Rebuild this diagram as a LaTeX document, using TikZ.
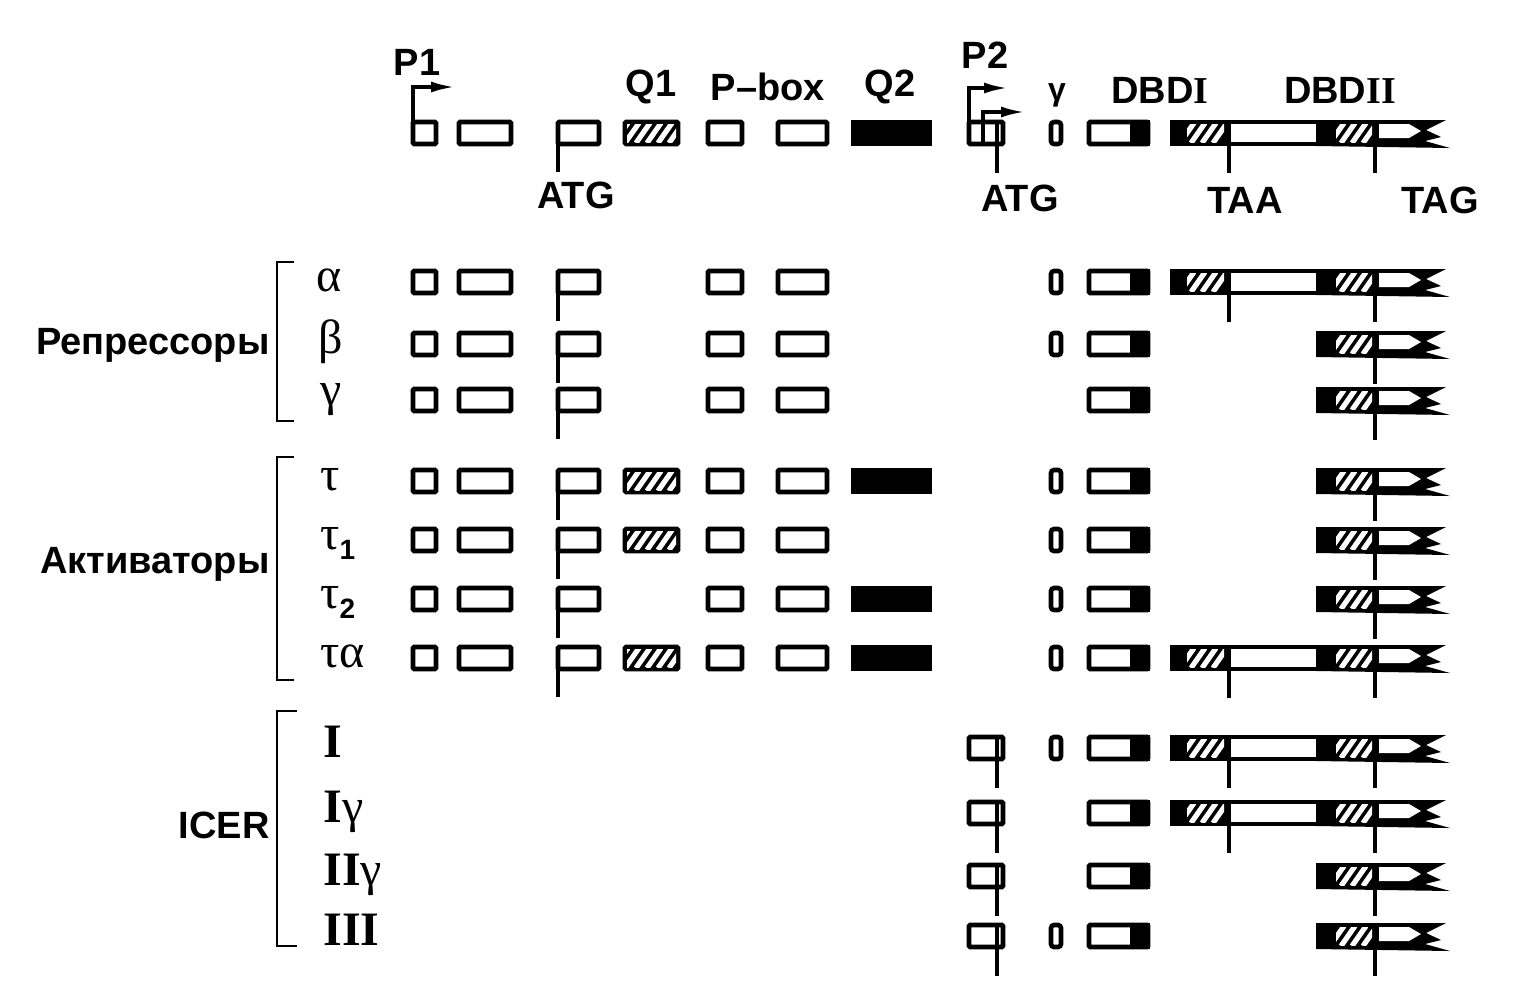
\documentclass[tikz,border=0pt]{standalone}
\usepackage{fontspec}
\setmainfont{Liberation Sans}
\newfontfamily\grfont{Liberation Serif}
\usetikzlibrary{arrows.meta}

\begin{document}
\begin{tikzpicture}[x=0.5pt,y=-0.5pt,
    exon/.style={draw,line width=2.3pt,fill=white,rounded corners=0.6pt},
    stripe/.style={white,line width=2.6pt},
    tick/.style={line width=1.7pt},
    prom/.style={line width=1.7pt,-{Latex[length=12pt,width=5.5pt]}},
    brack/.style={line width=1.1pt},
    lbl/.style={font=\bfseries\fontsize{19}{24}\selectfont,inner sep=0pt},
    row/.style={font=\grfont\fontsize{24}{26}\selectfont,inner sep=0pt,anchor=base west}]

      \useasboundingbox (0,0) rectangle (1524,992);

      %%%%%%%%%%%%%%%%%%%%%%%%%%%%%%%%%%%%%%%%%%%%%%%%%%%%%%%%%%%%%%%%%%%%%%%%%%%
      %%%%  P1 exons
      \foreach \y in {133,282,344,400,481,540,599,658}
      {\draw[exon] (413,\y-11) rectangle (436,\y+11);
       \draw[exon] (459,\y-11) rectangle (511,\y+11);
       \draw[exon] (558,\y-11) rectangle (599,\y+11);
       \draw[tick] (558,\y) -- (558,\y+39);
       \draw[exon] (708,\y-11) rectangle (742,\y+11);
       \draw[exon] (778,\y-11) rectangle (827,\y+11);
      };

      %%%%  Q1
      \foreach \y in {133,481,540,658}
      {\draw[exon,fill=black] (625,\y-11) rectangle (678,\y+11);
       \begin{scope}
         \clip (627,\y-9) rectangle (676,\y+9);
         \foreach \s in {0,...,5}
           {\draw[stripe] (614+\s*11,\y+10) -- ++(14,-20);}
       \end{scope}
      };

      %%%%  Q2
      \foreach \y in {133,481,599,658}
      {\fill (851,\y-13) rectangle (932,\y+13);};

      %%%%%%%%%%%%%%%%%%%%%%%%%%%%%%%%%%%%%%%%%%%%%%%%%%%%%%%%%%%%%%%%%%%%%%%%%%%
      %%%%  P2 exon
      \draw[exon] (969,122) rectangle (1003,144);
      \draw[tick] (983,122) -- (983,144);
      \draw[tick] (997,122) -- (997,173);
      \draw[prom] (969,122) -- (969,88) -- (1008,88);
      \draw[prom] (983,122) -- (983,112) -- (1025,112);
      \draw[prom] (413,122) -- (413,87) -- (455,87);

      \foreach \y in {748,813,876,936}
      {\draw[exon] (969,\y-11) rectangle (1003,\y+11);
       \draw[tick] (997,\y-11) -- (997,\y+40);
      };

      %%%%  gamma exon
      \foreach \y in {133,282,344,481,540,599,658,748,936}
      {\draw[exon,rounded corners=1.5pt] (1051,\y-11) rectangle (1061,\y+11);};

      %%%%  DBD I
      \foreach \y in {133,282,344,400,481,540,599,658,748,813,876,936}
      {\draw[exon] (1089,\y-11) rectangle (1148,\y+11);
       \fill (1130,\y-13) rectangle (1150,\y+13);
      };

      %%%%  DBD I + II, long form
      \foreach \y in {133,282,658,748,813}
      {\fill (1170,\y-13) rectangle (1320,\y+13);
       \fill[white] (1231,\y-9) rectangle (1316,\y+9);
       \begin{scope}
         \clip (1187,\y-9) rectangle (1224,\y+9);
         \foreach \s in {0,...,3}
           {\draw[stripe] (1180+\s*11,\y+10) -- ++(14,-20);}
       \end{scope}
       \draw[tick] (1229,\y) -- (1229,\y+40);
      };

      %%%%  DBD II, end of all forms
      \foreach \y in {133,282,344,400,481,540,599,658,748,813,876,936}
      {\fill (1316,\y-13) -- (1446,\y-13) -- (1426,\y-3) -- (1441,\y+4)
          -- (1425,\y+8) -- (1450,\y+15) -- (1316,\y+13) -- cycle;
       \fill[white] (1379,\y-9) -- (1409,\y-9) -- (1421,\y-2)
          -- (1409,\y+5) -- (1379,\y+5) -- cycle;
       \begin{scope}
         \clip (1336,\y-9) rectangle (1372,\y+9);
         \foreach \s in {0,...,3}
           {\draw[stripe] (1330+\s*11,\y+10) -- ++(14,-20);}
       \end{scope}
       \draw[tick] (1375,\y-13) -- (1375,\y+40);
      };

      %%%%%%%%%%%%%%%%%%%%%%%%%%%%%%%%%%%%%%%%%%%%%%%%%%%%%%%%%%%%%%%%%%%%%%%%%%%
      %%%%  Labels
      \node[lbl] (p1) at (417,62) {P1};
      \node[lbl] (q1) at (651,87) {Q1};
      \node[lbl] (pbox) at (768,87) {P--box};
      \node[lbl] (q2) at (890,87) {Q2};
      \node[lbl] (p2) at (985,55) {P2};
      \node[lbl,font=\bfseries\fontsize{16}{20}\selectfont] (gam) at (1057,95) {γ};
      \node[lbl] (dbd1) at (1160,90) {DBD{\grfont I}};
      \node[lbl] (dbd2) at (1340,90) {DBD{\grfont II}};
      \node[lbl] (atg1) at (576,195) {ATG};
      \node[lbl] (atg2) at (1020,198) {ATG};
      \node[lbl] (taa) at (1245,200) {TAA};
      \node[lbl] (tag) at (1440,200) {TAG};

      \node[lbl,anchor=base east] (rep) at (270,354) {Репрессоры};
      \node[lbl,anchor=base east] (act) at (270,573) {Активаторы};
      \node[lbl,anchor=base east] (icer) at (270,838) {ICER};

      \node[row] (alpha) at (316,291) {α};
      \node[row] (beta) at (318,353) {β};
      \node[row] (gamma) at (320,405) {γ};
      \node[row] (tau) at (320,490) {τ};
      \node[row] (tau1) at (320,549) {τ\raisebox{-5pt}{\normalfont\bfseries\fontsize{14}{14}\selectfont 1}};
      \node[row] (tau2) at (320,608) {τ\raisebox{-5pt}{\normalfont\bfseries\fontsize{14}{14}\selectfont 2}};
      \node[row] (taua) at (320,667) {τα};
      \node[row] (ic1) at (323,757) {\bfseries I};
      \node[row] (ic1g) at (323,822) {{\bfseries I}γ};
      \node[row] (ic2g) at (323,885) {{\bfseries II}γ};
      \node[row] (ic3) at (323,945) {\bfseries III};

      %%%%  Brackets
      \draw[brack] (294,262) -- (277,262) -- (277,421) -- (294,421);
      \draw[brack] (294,457) -- (277,457) -- (277,680) -- (294,680);
      \draw[brack] (297,711) -- (277,711) -- (277,946) -- (297,946);
    \end{tikzpicture}
\end{document}
